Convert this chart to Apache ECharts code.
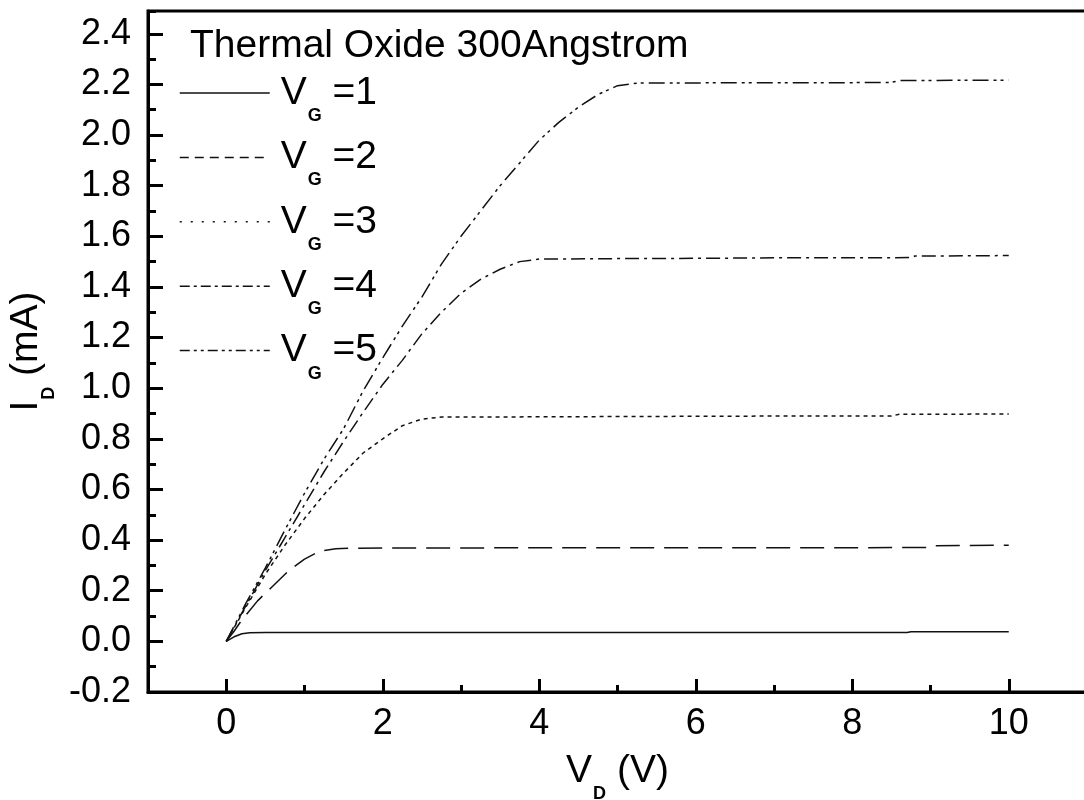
<!DOCTYPE html>
<html><head><meta charset="utf-8">
<script src="https://cdn.jsdelivr.net/npm/echarts@6/dist/echarts.min.js"></script>
<style>html,body{margin:0;padding:0;background:#fff}#c{width:1084px;height:800px}</style>
</head><body><div id="c"></div>
<script>
const FONT = "'Liberation Sans', Arial, Helvetica, sans-serif";
const titleText = 'Thermal Oxide 300Angstrom';
const seriesNames = ['VG1', 'VG2', 'VG3', 'VG4', 'VG5'];
const gateLabels = ['1', '2', '3', '4', '5'];
const xMajorTicks = [0, 2, 4, 6, 8, 10];

const vd1 = [0, 0.1, 0.2, 0.3, 0.5, 1, 2, 4, 6, 8, 8.7, 8.75, 10];
const id1 = [0, 0.018, 0.03, 0.034, 0.035, 0.035, 0.035, 0.035, 0.035, 0.035, 0.035, 0.038, 0.038];

const vd2 = [0, 0.1, 0.2, 0.4, 0.6, 0.8, 1.0, 1.2, 1.4, 1.6, 2, 3, 4, 5, 6, 7, 8, 9, 9.05, 10];
const id2 = [0, 0.04, 0.085, 0.16, 0.22, 0.28, 0.325, 0.357, 0.366, 0.368, 0.369, 0.369, 0.37, 0.37, 0.37, 0.37, 0.37, 0.371, 0.378, 0.38];

const vd3 = [0, 0.25, 0.5, 0.75, 1.0, 1.25, 1.5, 1.75, 2.0, 2.25, 2.5, 2.75, 3, 4, 5, 6, 7, 8, 8.5, 8.6, 10];
const id3 = [0, 0.135, 0.265, 0.38, 0.485, 0.58, 0.665, 0.744, 0.80, 0.852, 0.878, 0.886, 0.886, 0.887, 0.888, 0.889, 0.89, 0.89, 0.89, 0.897, 0.898];

const vd4 = [0, 0.25, 0.5, 0.75, 1.0, 1.25, 1.5, 1.75, 2.0, 2.25, 2.5, 2.75, 3.0, 3.25, 3.5, 3.75, 4.0, 5, 6, 7, 8, 8.75, 8.8, 10];
const id4 = [0, 0.14, 0.28, 0.41, 0.54, 0.67, 0.79, 0.905, 1.015, 1.11, 1.215, 1.30, 1.375, 1.43, 1.47, 1.50, 1.51, 1.512, 1.513, 1.515, 1.515, 1.516, 1.522, 1.524];

const vd5 = [0, 0.25, 0.5, 0.75, 1.0, 1.25, 1.5, 1.75, 2.0, 2.25, 2.5, 2.75, 3.0, 3.25, 3.5, 3.75, 4.0, 4.25, 4.5, 4.75, 5.0, 5.25, 5.5, 6, 7, 8, 8.5, 8.6, 10];
const id5 = [0, 0.15, 0.29, 0.44, 0.585, 0.72, 0.84, 0.99, 1.12, 1.245, 1.36, 1.49, 1.60, 1.70, 1.80, 1.89, 1.98, 2.05, 2.11, 2.16, 2.195, 2.205, 2.206, 2.206, 2.207, 2.207, 2.208, 2.215, 2.217];

const vds = [vd1, vd2, vd3, vd4, vd5];
const ids = [id1, id2, id3, id4, id5];

const plotDash = ['solid', [24, 10], [4, 4], [14, 5, 3, 5], [16, 5, 3, 4, 3, 5]];
const legendDash = ['solid', [9, 6], [2, 9], [10, 4, 3, 4], [10, 4, 3, 4, 3, 4]];
const LINE_COLOR = '#111';

const pairs = (xs, ys) => xs.map((x, i) => [x, ys[i]]);

const richSub = {
  v: { fontSize: 39, fontFamily: FONT, color: '#000', lineHeight: 60, verticalAlign: 'middle' },
  p: { fontSize: 39, fontFamily: FONT, color: '#000', lineHeight: 60, verticalAlign: 'middle', padding: [0, 0, 0, 6] },
  s: { fontSize: 18, fontWeight: 'bold', fontFamily: FONT, color: '#000', lineHeight: 16, verticalAlign: 'top', padding: [44, 0, 0, 1] }
};

const chart = echarts.init(document.getElementById('c'), null, { renderer: 'canvas' });

const series = seriesNames.map((n, i) => ({
  name: n,
  type: 'line',
  xAxisIndex: 0,
  yAxisIndex: 0,
  data: pairs(vds[i], ids[i]),
  symbol: 'none',
  showSymbol: false,
  smooth: false,
  lineStyle: { color: LINE_COLOR, width: 1.5, type: plotDash[i] },
  itemStyle: { color: LINE_COLOR },
  animation: false
}));

const axisLineStyle = { color: '#000', width: 3 };

chart.setOption({
  backgroundColor: '#fff',
  animation: false,
  title: {
    text: titleText, left: 185, top: 22,
    textStyle: { fontSize: 39, fontWeight: 'normal', color: '#000', fontFamily: FONT }
  },
  legend: {
    orient: 'vertical', left: 174, top: 58,
    itemWidth: 90, itemHeight: 14, itemGap: 2.4,
    data: seriesNames.map((n, i) => ({
      name: n,
      itemStyle: { color: 'rgba(0,0,0,0)', borderColor: 'rgba(0,0,0,0)', borderWidth: 0, opacity: 0 },
      lineStyle: { color: LINE_COLOR, width: 1.5, type: legendDash[i], opacity: 1 }
    })),
    formatter: name => '{p|V}{s|G}{v| =' + gateLabels[seriesNames.indexOf(name)] + '}',
    textStyle: { fontSize: 39, fontFamily: FONT, color: '#000', rich: richSub }
  },
  grid: { left: 148, top: 11, width: 939, height: 681, show: true, borderColor: '#000', borderWidth: 3,
    containLabel: false, outerBoundsMode: 'none' },
  xAxis: [
    {
      type: 'value', min: -1, max: 11, position: 'bottom',
      name: '{v|V}{s|D}{v| (V)}', nameLocation: 'middle', nameGap: 49, nameMoveOverlap: false,
      nameTextStyle: { fontSize: 39, fontFamily: FONT, color: '#000', rich: richSub },
      axisLine: { show: true, onZero: false, lineStyle: axisLineStyle },
      axisTick: { show: true, inside: true, length: 13, lineStyle: { color: '#000', width: 3 }, customValues: xMajorTicks },
      axisLabel: { show: true, margin: 14, fontSize: 36, fontFamily: FONT, color: '#000', customValues: xMajorTicks },
      splitLine: { show: false }
    },
    {
      type: 'value', min: -1, max: 11, interval: 1, position: 'bottom',
      axisLine: { show: false, onZero: false },
      axisTick: { show: true, inside: true, length: 7, lineStyle: { color: '#000', width: 3 } },
      axisLabel: { show: false },
      splitLine: { show: false }
    }
  ],
  yAxis: [
    {
      type: 'value', min: -0.2, max: 2.49, interval: 0.2, position: 'left',
      name: '{v|I}{s|D}{v| (mA)}', nameLocation: 'middle', nameGap: 92,
      nameTextStyle: { fontSize: 39, fontFamily: FONT, color: '#000', rich: richSub },
      axisLine: { show: true, onZero: false, lineStyle: axisLineStyle },
      axisTick: { show: true, inside: true, length: 15, lineStyle: { color: '#000', width: 3 } },
      axisLabel: { show: true, margin: 17, fontSize: 36, fontFamily: FONT, color: '#000', showMaxLabel: false,
        formatter: v => v.toFixed(1) },
      splitLine: { show: false }
    },
    {
      type: 'value', min: -0.2, max: 2.49, interval: 0.1, position: 'left',
      axisLine: { show: false, onZero: false },
      axisTick: { show: true, inside: true, length: 8, lineStyle: { color: '#000', width: 3 } },
      axisLabel: { show: false },
      splitLine: { show: false }
    }
  ],
  series: series
});
</script></body></html>
